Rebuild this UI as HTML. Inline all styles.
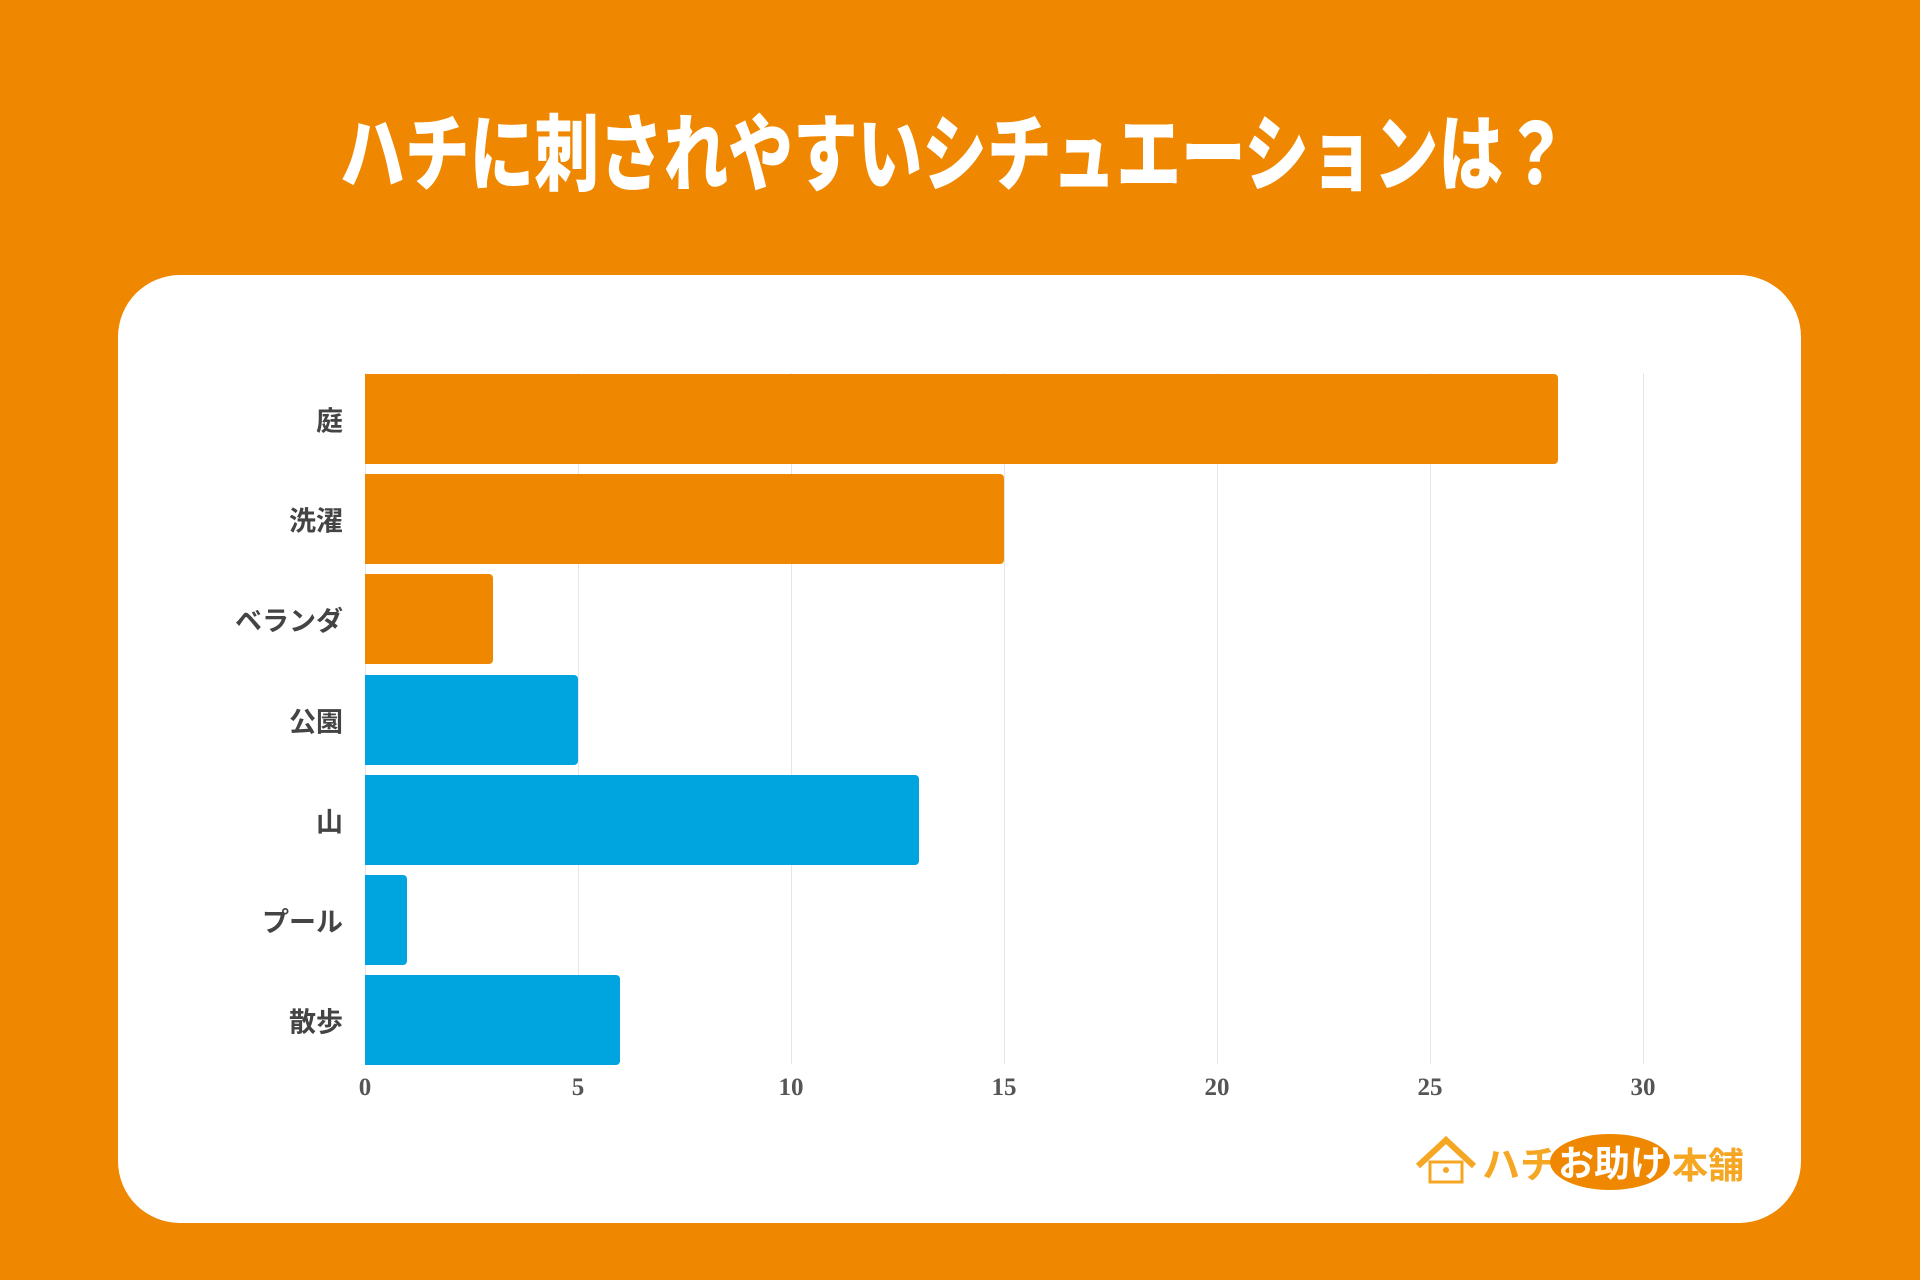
<!DOCTYPE html>
<html><head><meta charset="utf-8"><style>
html,body{margin:0;padding:0}
body{width:1920px;height:1280px;background:#EF8800;position:relative;overflow:hidden;font-family:"Liberation Sans","Noto Sans CJK JP",sans-serif}
.title{position:absolute;left:-6px;width:1920px;top:88px;text-align:center;color:#fff;font-size:84px;font-weight:900;letter-spacing:0px;transform:scaleX(0.77);transform-origin:center}
.card{position:absolute;left:118px;top:275px;width:1683px;height:948px;background:#fff;border-radius:62px}
.g{position:absolute;top:373px;height:691px;width:1px;background:#e6e6e6}
.bar{position:absolute;left:365px;height:90px;border-radius:0 4px 4px 0}
.o{background:#EF8800}.b{background:#00A5E0}
.lab{position:absolute;right:1577px;font-size:27px;font-weight:bold;color:#444;transform:translateY(-50%)}
.t{position:absolute;top:1074px;font-family:"Liberation Serif",serif;font-weight:bold;font-size:25px;color:#555;transform:translateX(-50%)}
</style></head><body>
<div class="title">ハチに刺されやすいシチュエーションは？</div>
<div class="card"></div>
<div class="g" style="left:365px"></div><div class="g" style="left:578px"></div><div class="g" style="left:791px"></div><div class="g" style="left:1004px"></div><div class="g" style="left:1217px"></div><div class="g" style="left:1430px"></div><div class="g" style="left:1643px"></div>
<div class="bar o" style="top:374px;width:1193px"></div>
<div class="bar o" style="top:474px;width:639px"></div>
<div class="bar o" style="top:574px;width:128px"></div>
<div class="bar b" style="top:675px;width:213px"></div>
<div class="bar b" style="top:775px;width:554px"></div>
<div class="bar b" style="top:875px;width:42px"></div>
<div class="bar b" style="top:975px;width:255px"></div>
<div class="lab" style="top:419px">庭</div>
<div class="lab" style="top:519px">洗濯</div>
<div class="lab" style="top:619px">ベランダ</div>
<div class="lab" style="top:720px">公園</div>
<div class="lab" style="top:820px">山</div>
<div class="lab" style="top:920px">プール</div>
<div class="lab" style="top:1020px">散歩</div>
<div class="t" style="left:365px">0</div><div class="t" style="left:578px">5</div><div class="t" style="left:791px">10</div><div class="t" style="left:1004px">15</div><div class="t" style="left:1217px">20</div><div class="t" style="left:1430px">25</div><div class="t" style="left:1643px">30</div>
<svg style="position:absolute;left:1410px;top:1130px" width="340" height="64">
<path d="M8 36 L36 10 L64 36" fill="none" stroke="#F5A623" stroke-width="6"/>
<rect x="20" y="32" width="32" height="20" fill="#fff" stroke="#F5A623" stroke-width="3"/>
<circle cx="36" cy="40" r="3" fill="#F5A623"/>
<text x="72" y="48" font-family="Liberation Sans,Noto Sans CJK JP,sans-serif" font-weight="bold" font-size="38" fill="#F5A623">ハチ</text>
<ellipse cx="200" cy="32" rx="60" ry="28" fill="#EF8800"/>
<text x="148" y="46" font-family="Liberation Sans,Noto Sans CJK JP,sans-serif" font-weight="bold" font-size="36" fill="#fff">お助け</text>
<text x="262" y="48" font-family="Liberation Sans,Noto Sans CJK JP,sans-serif" font-weight="bold" font-size="36" fill="#F5A623">本舗</text>
</svg>
</body></html>
